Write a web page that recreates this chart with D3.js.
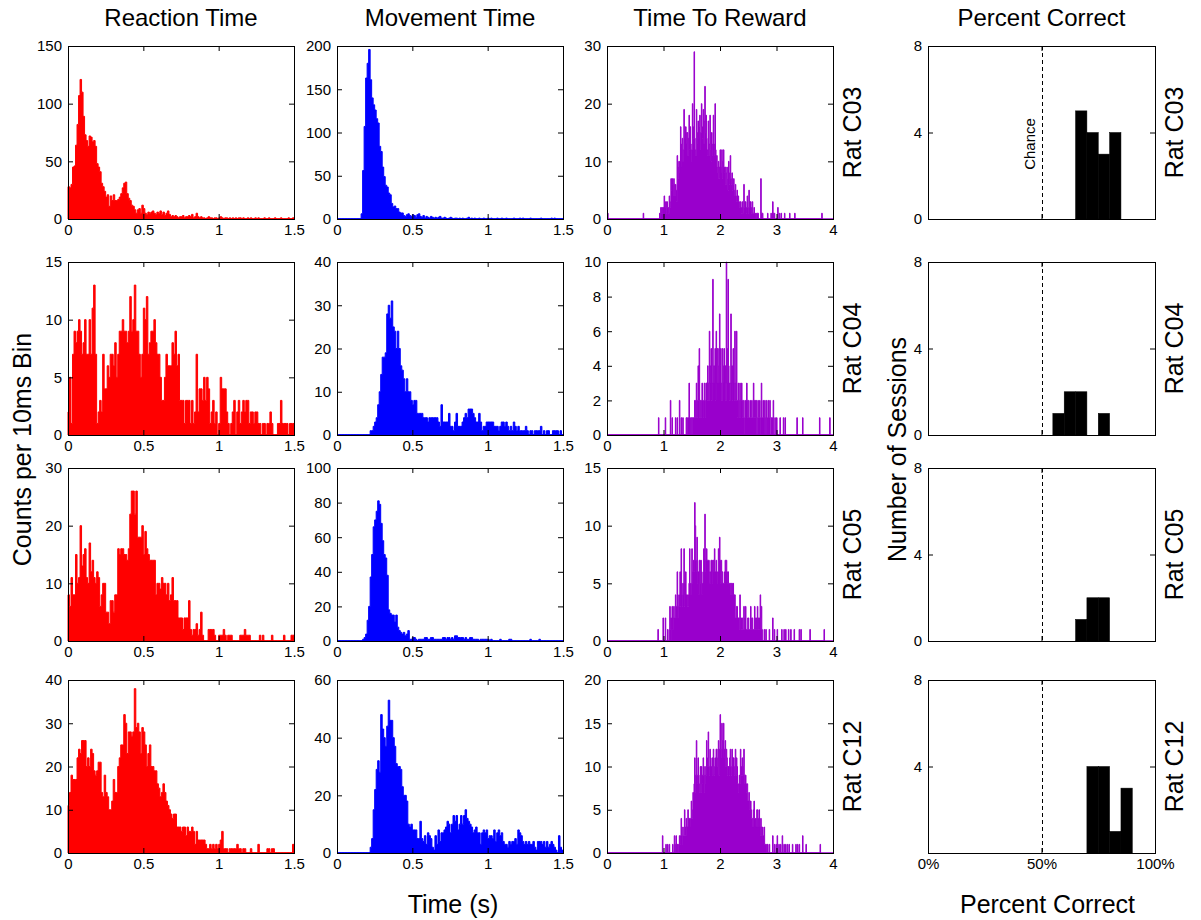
<!DOCTYPE html>
<html>
<head>
<meta charset="utf-8">
<script src="https://cdn.jsdelivr.net/npm/d3@7"></script>
<style>
  body { margin: 0; background: #fff; }
  text { font-family: "Liberation Sans", Arial, Helvetica, sans-serif; fill: #000; }
</style>
</head>
<body>
<svg id="fig" width="1201" height="920"></svg>
<script>
// ---- labels ----
const rats = ["Rat C03", "Rat C04", "Rat C05", "Rat C12"];
const columnTitles = ["Reaction Time", "Movement Time", "Time To Reward", "Percent Correct"];
const binWidth = 0.01; // seconds per histogram bin

// ---- reaction time counts per 10 ms bin (0 - 1.5 s) ----
const rtC03 = [28,27,30,45,46,64,82,107,121,110, 89,73,68,63,72,71,67,68,63,48,
  45,41,31,28,24,19,21,11,20,16, 21,16,16,17,19,22,27,31,32,22, 18,16,12,11,8,5,8,9,5,12,
  9,5,4,6,5,6,7,5,4,6, 5,7,4,6,3,5,7,4,2,3, 2,3,2,1,2,2,3,1,2,2, 3,2,4,1,2,5,2,1,2,1,
  1,0,1,2,1,1,0,1,1,0, 1,2,1,0,1,1,0,1,0,1, 0,1,0,1,1,0,1,0,0,1, 0,1,0,0,1,0,1,0,0,0,
  1,0,0,1,0,0,0,1,0,0, 0,1,0,0,0,0,1,0,0,1];
const rtC04 = [2,5,1,7,9,8,9,10,9,7, 8,10,7,7,10,7,11,13,7,1, 2,3,2,7,4,4,6,5,7,7,
  6,8,5,7,9,9,10,9,9,8, 9,12,9,10,13,9,9,7,5,7, 11,10,12,7,8,9,9,10,8,7, 7,5,3,3,5,7,6,6,6,8,
  7,9,6,7,3,3,3,1,3,3, 3,1,3,1,2,7,2,4,4,3, 5,3,5,4,1,2,3,1,2,0, 1,5,4,4,4,2,1,0,1,2,
  3,0,2,3,1,2,3,2,3,3, 1,2,2,1,2,2,1,1,0,1, 1,0,1,1,2,1,0,0,0,1, 1,3,1,1,1,1,0,1,1,1];
const rtC05 = [8,6,11,8,8,15,10,11,20,13, 15,16,11,10,17,12,14,11,10,12, 11,6,8,10,10,5,5,3,7,7,
  5,8,8,16,15,16,16,15,15,14, 16,22,26,26,22,26,18,18,18,20, 15,19,16,15,14,14,14,14,8,10,
  10,9,11,10,10,8,10,7,8,11, 7,7,7,4,4,4,2,4,4,4, 7,2,1,2,2,3,1,2,5,1, 0,0,0,2,2,2,2,1,0,0,
  1,1,1,2,1,0,1,1,1,0, 0,0,0,0,1,1,1,2,1,1, 1,0,0,0,0,0,0,1,0,1, 0,0,0,0,0,1,0,0,0,0,
  0,0,0,1,0,0,0,0,1,1];
const rtC12 = [11,14,18,17,17,17,22,24,23,26, 26,26,20,22,20,24,23,19,18,19, 21,21,14,13,18,14,13,10,10,12,
  17,14,14,20,22,25,25,32,30,23, 28,28,27,28,38,29,30,28,23,29, 28,25,20,23,25,20,20,19,19,16,
  15,13,14,16,14,12,11,10,9,8, 9,9,6,6,6,5,6,6,4,6, 5,5,6,5,2,5,3,3,3,3, 3,2,1,1,2,1,2,1,2,1,
  2,3,5,1,1,1,0,1,1,1, 1,1,2,1,1,0,1,1,0,0, 0,1,0,0,0,0,2,0,0,0, 0,0,1,1,0,1,1,0,0,0,
  0,0,0,0,0,0,0,0,0,2];

// ---- movement time counts per 10 ms bin (0 - 1.5 s) ----
const mtC03 = [0,0,0,0,0,0,0,0,0,0, 0,0,0,0,0,0,6,56,107,163, 180,196,161,140,132,126,116,111,84,78,
  60,49,39,37,30,28,18,14,15,12, 12,8,7,7,4,3,5,6,4,3, 5,4,2,5,6,3,2,4,1,3, 2,1,3,2,1,2,1,2,3,1,
  1,2,1,0,1,2,1,0,1,1, 0,1,0,1,0,0,1,2,0,1, 0,1,0,0,1,0,0,1,0,0, 1,0,1,0,0,0,1,0,0,1,
  0,0,1,0,0,0,0,1,0,0, 0,1,0,1,0,0,0,0,1,0, 0,0,0,0,0,1,0,0,0,0, 0,0,1,0,1,0,0,0,0,0];
const mtC04 = [0,0,0,0,0,0,0,0,0,0, 0,0,0,0,0,0,0,0,0,0, 0,0,
  1,1,2,3,4,7,10,14,18,18, 19,28,30,27,31,25,24,20,24,20, 16,15,13,10,13,10,10,8,7,8,
  8,5,5,5,5,4,4,4,3,4, 4,4,4,4,4,3,2,7,3,3, 3,3,5,2,2,1,3,5,2,2, 2,3,4,5,4,6,6,6,5,4,
  3,3,5,3,1,2,2,3,3,3, 3,3,2,2,2,1,2,3,3,2, 3,2,1,2,1,3,2,1,2,1, 1,1,1,2,1,0,1,1,0,1,
  1,1,1,2,0,1,0,1,1,0, 0,1,1,1,1,0,1,0];
const mtC05 = [0,0,0,0,0,0,0,0,0,0, 0,0,0,0,0,0,0,
  1,2,4,12,20,37,50,66,70,75, 81,79,68,58,50,48,38,18,16,15, 15,11,15,8,6,5,4,5,3,4,
  6,1,1,2,2,1,0,1,1,1, 1,2,2,1,1,2,2,1,1,1, 1,1,1,2,2,1,2,2,1,2, 1,3,3,2,2,2,2,1,2,1,
  1,2,2,1,1,1,1,0,1,1, 1,1,1,1,0,1,0,0,0,0, 0,1,0,0,0,0,0,1,1,0, 0,0,0,0,0,0,0,0,0,0,
  0,1,0,0,0,0,0,1,0,0, 0,0,0,0,0,0,0,0,0,0, 0,0,0];
const mtC12 = [0,0,0,0,0,0,0,0,0,0, 0,0,0,0,0,0,0,0,0,0, 0,0,
  2,5,15,22,29,32,28,48,43,40, 37,44,53,46,46,40,37,31,30,30, 29,23,20,20,18,10,9,10,8,8,
  8,5,5,11,5,4,6,3,7,6, 5,2,1,6,3,8,4,7,7,8, 9,11,10,7,10,13,11,13,8,10, 13,10,13,15,12,11,10,9,7,8,
  9,7,7,3,7,8,7,8,5,6, 6,5,8,4,7,8,6,7,4,3, 3,2,4,3,4,4,5,3,8,7, 6,4,3,4,3,4,3,3,4,2,
  1,4,4,4,3,4,2,4,2,3, 4,3,2,1,0,6,2,1];

// ---- time to reward counts per 10 ms bin (0 - 4 s; later bins are empty) ----
const ttrC03 = [0,1,0,0,0,0,0,0,0,0, 0,0,0,0,0,0,0,0,0,0, 0,0,0,0,0,0,0,0,0,0, 0,0,0,0,0,0,0,0,0,0,
  0,0,0,0,0,0,0,0,0,0, 0,0,0,0,0,0,0,0,0,0, 0,0,0,0,1,0,0,0,0,0, 0,0,0,0,0,0,0,0,0,0,
  0,0,0,0,0,0,0,0,0,0, 0,0,0,1,0,2,1,2,1,2, 2,4,3,2,3,1,3,2,2,1, 4,2,3,7,5,7,6,4,7,6,
  4,6,5,3,11,9,7,10,8,10, 16,9,13,14,10,12,19,12,14,16, 13,15,15,11,14,18,12,16,13,10,
  12,20,14,16,29,14,12,11,19,15, 13,17,14,16,18,12,15,20,16,14, 19,13,17,23,15,18,14,12,11,17,
  11,13,18,12,10,15,11,13,18,13, 11,20,12,9,11,8,9,10,7,9, 12,9,8,12,7,10,12,8,9,9,
  6,8,9,7,5,10,6,8,11,7, 6,8,5,6,7,4,5,6,4,3, 5,3,4,3,2,3,3,2,1,3, 1,2,6,2,3,3,1,2,4,2,
  1,5,2,3,3,1,2,3,1,1, 2,1,0,1,0,1,1,1,0,0, 0,0,7,1,1,1,0,0,0,0, 0,0,0,0,1,0,0,0,0,0,
  1,0,0,3,1,0,1,0,0,0, 0,0,2,0,0,1,0,0,1,0, 0,0,0,0,1,0,0,0,0,0, 0,0,0,1,0,0,0,0,0,0,
  0,0,1,0,0,0,0,0,0,0, 0,0,0,0,0,0,0,0,0,0, 0,0,0,0,0,0,0,0,0,0, 0,0,0,0,0,0,0,0,0,0,
  0,0,0,0,0,0,0,0,0,0, 1];
const ttrC04 = [0,0,0,0,0,0,0,0,0,0, 0,0,0,0,0,0,0,0,0,0, 0,0,0,0,0,0,0,0,0,0, 0,0,0,0,0,0,0,0,0,0,
  0,0,0,0,0,0,0,0,0,0, 0,0,0,0,0,0,0,0,0,0, 0,0,0,0,0,0,0,0,0,0, 0,0,0,0,0,0,0,0,0,0,
  0,0,0,0,0,0,0,0,0,0, 0,1,0,0,0,0,0,0,0,0, 0,0,0,1,0,0,0,0,0,0, 0,0,2,0,0,1,0,0,0,0,
  0,1,0,0,1,0,0,0,2,0, 0,1,0,0,1,0,0,0,0,0, 1,1,0,1,1,3,1,0,1,1, 0,1,1,1,1,2,1,2,3,1,
  2,4,2,5,1,2,2,1,3,2, 1,2,3,2,1,3,3,2,4,3, 2,6,3,4,5,2,3,9,4,3, 4,5,2,6,3,5,5,4,3,7,
  4,5,3,2,5,4,3,5,3,4, 2,10,3,5,9,4,3,2,3,7, 3,4,2,5,3,2,6,3,2,6, 2,1,3,2,1,3,1,2,3,1,
  2,2,1,0,2,1,2,3,1,2, 2,1,1,2,1,1,2,1,1,3, 1,2,2,1,2,0,1,2,1,1, 2,0,1,3,1,1,2,1,0,2,
  1,0,2,1,0,2,1,1,2,0, 0,1,0,1,2,0,0,1,0,0, 1,0,0,0,0,0,1,0,0,0, 0,0,1,0,0,1,0,0,0,0,
  0,0,0,0,0,0,0,0,0,0, 0,0,0,0,0,0,1,0,0,0, 0,0,0,0,0,0,1,0,0,0, 0,0,0,0,0,0,0,0,0,0,
  0,0,0,0,0,0,0,0,0,0, 0,0,0,0,0,0,1,0,0,0, 0,0,0,0,0,0,0,0,0,0, 0,0,0,0,1];
const ttrC05 = [0,0,0,0,0,0,0,0,0,0, 0,0,0,0,0,0,0,0,0,0, 0,0,0,0,0,0,0,0,0,0, 0,0,0,0,0,0,0,0,0,0,
  0,0,0,0,0,0,0,0,0,0, 0,0,0,0,0,0,0,0,0,0, 0,0,0,0,0,0,0,0,0,0, 0,0,0,0,0,0,0,0,0,0,
  0,0,0,0,0,0,0,0,0,0, 1,0,0,0,0,0,0,0,0,2, 0,0,0,2,0,0,0,1,0,0, 1,3,1,2,0,3,1,2,3,2,
  2,4,3,2,6,3,2,4,3,6, 3,8,4,3,5,4,8,3,5,6, 4,4,3,4,3,5,8,4,5,4, 8,5,6,7,6,12,10,7,6,9,
  5,6,4,7,7,5,7,6,4,5, 6,8,7,11,6,7,8,7,7,7, 7,6,5,6,7,7,5,7,7,6, 8,6,6,7,6,5,6,8,7,9,
  7,5,7,6,6,5,5,5,6,7, 7,7,6,5,6,5,5,5,5,4, 5,5,4,5,4,4,4,2,2,3, 3,2,2,2,1,4,2,1,2,2,
  1,1,3,1,2,3,1,1,1,2, 2,1,1,1,3,1,2,2,1,1, 1,3,2,1,2,1,3,1,2,2, 1,4,2,3,1,0,0,0,1,0,
  0,1,0,0,0,0,0,1,0,0, 0,0,0,2,0,0,1,0,0,0, 0,1,0,0,0,0,0,0,0,1, 0,0,0,1,0,0,1,0,0,0,
  0,1,0,0,0,1,0,0,0,0, 0,1,0,0,0,0,0,0,0,0, 1,0,0,1,0,0,0,0,0,0, 0,0,0,0,0,0,0,0,0,1,
  0,0,0,0,0,0,0,0,0,0, 0,0,0,0,0,0,0,0,0,0, 0,0,0,0,1];
const ttrC12 = [0,0,0,0,0,0,0,0,0,0, 0,0,0,0,0,0,0,0,0,0, 0,0,0,0,0,0,0,0,0,0, 0,0,0,0,0,0,0,0,0,0,
  0,0,0,0,0,0,0,0,0,0, 0,0,0,0,0,0,0,0,0,0, 0,0,0,0,0,0,0,0,0,0, 0,0,0,0,0,0,0,0,0,0,
  0,0,0,0,0,0,0,0,0,0, 0,0,0,0,0,0,0,0,2,0, 0,0,0,0,1,0,0,1,0,0, 1,0,0,0,0,0,1,0,0,2,
  0,1,2,0,1,1,0,1,2,1, 2,4,2,1,3,2,2,5,3,2, 4,3,3,5,3,4,4,3,4,6, 5,4,7,6,8,11,7,9,13,9,
  8,11,9,7,8,10,7,10,8,9, 11,9,7,10,8,9,13,10,11,14, 10,9,12,11,10,10,11,9,12,10, 9,11,10,12,12,10,11,13,9,12,
  16,12,11,15,13,12,15,11,12,13, 10,12,11,9,10,10,9,11,12,10, 9,12,10,11,11,9,10,12,9,11, 10,8,7,8,9,8,12,9,10,11,
  9,10,12,8,9,9,7,8,8,6, 6,7,5,6,6,5,4,4,3,5, 6,4,3,4,3,5,5,3,4,5, 3,2,4,3,2,3,2,2,3,1,
  1,1,0,1,1,0,0,1,0,0, 0,0,0,2,0,0,1,0,0,1, 0,2,0,0,1,0,0,1,0,0, 2,0,0,1,0,0,1,0,0,1,
  0,0,1,0,0,0,0,0,1,0, 0,0,0,0,1,0,0,1,0,0, 1,0,0,0,0,0,2,0,0,0, 0,0,1,0,0,0,0,0,0,0,
  0,0,0,0,0,0,0,0,0,0, 0,0,0,0,0,0,0,1];

// ---- sessions per 5 % bin of percent correct (bins starting at 0, 5, ..., 95 %) ----
const pcBinStarts = [0,5,10,15,20,25,30,35,40,45,50,55,60,65,70,75,80,85,90,95];
const pcC03 = [0,0,0,0,0,0,0,0,0,0,0,0,0,5,4,3,4,0,0,0];
const pcC04 = [0,0,0,0,0,0,0,0,0,0,0,1,2,2,0,1,0,0,0,0];
const pcC05 = [0,0,0,0,0,0,0,0,0,0,0,0,0,1,2,2,0,0,0,0];
const pcC12 = [0,0,0,0,0,0,0,0,0,0,0,0,0,0,4,4,1,3,0,0];
const chanceLevel = 50;

// ---- axis ranges and ticks ----
const rtTicks  = [[0,50,100,150], [0,5,10,15], [0,10,20,30], [0,10,20,30,40]];
const mtTicks  = [[0,50,100,150,200], [0,10,20,30,40], [0,20,40,60,80,100], [0,20,40,60]];
const ttrTicks = [[0,10,20,30], [0,2,4,6,8,10], [0,5,10,15], [0,5,10,15,20]];
const sessionTicks = [0,4,8];
const shortTimeTicks = [0,0.5,1,1.5];
const longTimeTicks = [0,1,2,3,4];
const pcTicks = [0,50,100];

const rtCounts = [rtC03, rtC04, rtC05, rtC12];
const mtCounts = [mtC03, mtC04, mtC05, mtC12];
const ttrCounts = [ttrC03, ttrC04, ttrC05, ttrC12];
const pcCounts = [pcC03, pcC04, pcC05, pcC12];

// ---- layout ----
const svg = d3.select("#fig");
const colX = [68, 337, 607, 928];
const colW = [226, 226, 226, 227];
const rowY = [46, 262, 468, 680];
const rowH = 173;
const tick = 5;
const colors = ["#ff0000", "#0000ff", "#9900cc"];
const tickFont = 15;
const titleFont = 24;
const labelFont = 25;

function styleAxis(a) {
  a.select(".domain").remove();
  a.selectAll("line").attr("stroke", "#000");
  a.selectAll("text").attr("font-size", tickFont).attr("font-family", null).attr("fill", "#000");
}

// box with inward ticks on all four sides
function frame(g, x, y, xTicks, yTicks, xFmt, yShown) {
  const [x0, x1] = x.range();
  const [yb, yt] = y.range();
  g.append("g").attr("transform", `translate(0,${yb})`)
    .call(d3.axisBottom(x).tickValues(xTicks).tickSize(-tick).tickPadding(5).tickFormat(xFmt))
    .call(styleAxis);
  g.append("g").attr("transform", `translate(0,${yt})`)
    .call(d3.axisTop(x).tickValues(xTicks).tickSize(-tick).tickFormat(""))
    .call(styleAxis);
  g.append("g").attr("transform", `translate(${x0},0)`)
    .call(d3.axisLeft(y).tickValues(yTicks).tickSize(-tick).tickPadding(6)
      .tickFormat(v => yShown(v) ? String(v) : ""))
    .call(styleAxis);
  g.append("g").attr("transform", `translate(${x1},0)`)
    .call(d3.axisRight(y).tickValues(yTicks).tickSize(-tick).tickFormat(""))
    .call(styleAxis);
  g.append("rect")
    .attr("x", x0 + 0.5).attr("y", yt + 0.5)
    .attr("width", x1 - x0).attr("height", yb - yt)
    .attr("fill", "none").attr("stroke", "#000").attr("stroke-width", 1);
}

// filled step histogram, edges drawn in the same colour
function histogram(g, x, y, counts, color, tEnd) {
  const pts = counts.map((c, i) => ({ t: i * binWidth, c }));
  pts.push({ t: counts.length * binWidth, c: 0 });
  const area = d3.area().curve(d3.curveStepAfter)
    .x(d => x(d.t)).y0(y(0)).y1(d => y(d.c));
  g.append("path").datum(pts).attr("d", area)
    .attr("fill", color).attr("stroke", color).attr("stroke-width", 1)
    .attr("stroke-linejoin", "miter");
  g.append("line")
    .attr("x1", x(0)).attr("x2", x(tEnd))
    .attr("y1", y(0)).attr("y2", y(0))
    .attr("stroke", color).attr("stroke-width", 1.5);
}

const timeFmt = v => String(v);
const pcFmt = v => v + "%";

for (let r = 0; r < 4; r++) {
  const yb = rowY[r] + rowH, yt = rowY[r];
  const panels = [
    { counts: rtCounts[r],  ticks: rtTicks[r],  tEnd: 1.5, xt: shortTimeTicks },
    { counts: mtCounts[r],  ticks: mtTicks[r],  tEnd: 1.5, xt: shortTimeTicks },
    { counts: ttrCounts[r], ticks: ttrTicks[r], tEnd: 4,   xt: longTimeTicks }
  ];
  panels.forEach((p, c) => {
    const g = svg.append("g");
    const x = d3.scaleLinear().domain([0, p.tEnd]).range([colX[c], colX[c] + colW[c]]);
    const y = d3.scaleLinear().domain([0, d3.max(p.ticks)]).range([yb, yt]);
    histogram(g, x, y, p.counts, colors[c], p.tEnd);
    frame(g, x, y, p.xt, p.ticks, timeFmt, () => true);
  });

  // percent-correct histogram
  const g = svg.append("g");
  const x = d3.scaleLinear().domain([0, 100]).range([colX[3], colX[3] + colW[3]]);
  const y = d3.scaleLinear().domain([0, 8]).range([yb, yt]);
  g.selectAll("rect.bar").data(pcCounts[r].map((n, i) => ({ s: pcBinStarts[i], n })).filter(d => d.n > 0))
    .join("rect").attr("class", "bar")
    .attr("x", d => x(d.s)).attr("width", d => x(d.s + 5) - x(d.s))
    .attr("y", d => y(d.n)).attr("height", d => y(0) - y(d.n))
    .attr("fill", "#000").attr("stroke", "#000").attr("stroke-width", 0.5);
  g.append("line")
    .attr("x1", Math.round(x(chanceLevel)) + 0.5).attr("x2", Math.round(x(chanceLevel)) + 0.5)
    .attr("y1", yt).attr("y2", yb)
    .attr("stroke", "#000").attr("stroke-width", 1).attr("stroke-dasharray", "4,3");
  frame(g, x, y, pcTicks, sessionTicks, r === 3 ? pcFmt : () => "",
    v => !(r === 3 && v === 0));
  if (r === 0) {
    g.append("text")
      .attr("transform", `translate(${x(chanceLevel) - 7},${yt + 98}) rotate(-90)`)
      .attr("text-anchor", "middle").attr("font-size", 15).text("Chance");
  }

  // rat labels beside the time panels and the percent panel
  [colX[2] + colW[2] + 19, colX[3] + colW[3] + 19].forEach(cx => {
    svg.append("text")
      .attr("transform", `translate(${cx + 9},${yt + rowH / 2}) rotate(-90)`)
      .attr("text-anchor", "middle").attr("font-size", labelFont).text(rats[r]);
  });
}

// column titles
columnTitles.forEach((t, c) => {
  svg.append("text").attr("x", colX[c] + colW[c] / 2).attr("y", 26)
    .attr("text-anchor", "middle").attr("font-size", titleFont).text(t);
});

// shared axis labels
const midY = (rowY[0] + rowY[3] + rowH) / 2;
svg.append("text").attr("transform", `translate(31,${midY}) rotate(-90)`)
  .attr("text-anchor", "middle").attr("font-size", labelFont).text("Counts per 10ms Bin");
svg.append("text").attr("transform", `translate(906,${midY}) rotate(-90)`)
  .attr("text-anchor", "middle").attr("font-size", labelFont).text("Number of Sessions");
svg.append("text").attr("x", colX[1] + colW[1] / 2 + 3).attr("y", 913)
  .attr("text-anchor", "middle").attr("font-size", labelFont).text("Time (s)");
svg.append("text").attr("x", colX[3] + colW[3] / 2 + 6).attr("y", 913)
  .attr("text-anchor", "middle").attr("font-size", labelFont).text("Percent Correct");
</script>
</body>
</html>
